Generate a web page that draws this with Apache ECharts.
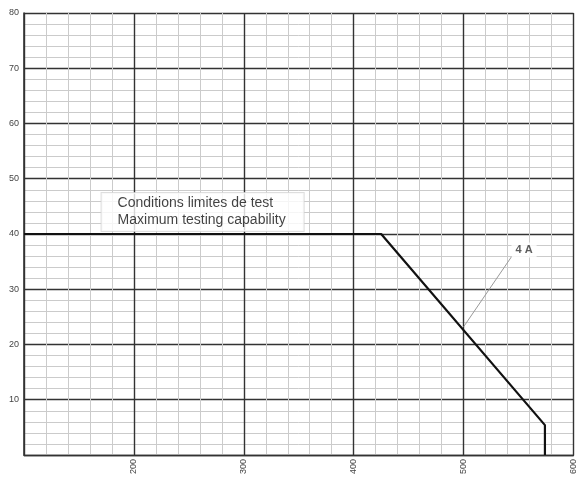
<!DOCTYPE html>
<html>
<head>
<meta charset="utf-8">
<script src="https://cdn.jsdelivr.net/npm/echarts@6/dist/echarts.min.js"></script>
<style>
html,body{margin:0;padding:0;background:#fff;}
#c{width:578px;height:477px;}
</style>
</head>
<body>
<div id="c"></div>
<script>
// Limit curve (x, y)
const curveX = [100, 425, 574, 574];
const curveY = [40, 40, 5.4, 0];
// Leader line for "4 A" annotation
const leaderX = [544, 500];
const leaderY = [36.0, 23.2];
// Annotation anchors
const curveLabel = ['4 A'];
const curveLabelPos = [555, 37.1];
const boxLines = ['Conditions limites de test', 'Maximum testing capability'];
const boxPos = [170.6, 44.0];
// Axes
const xMin = 100, xMax = 600, xStep = 100;
const yMin = 0, yMax = 80, yStep = 10;

const chart = echarts.init(document.getElementById('c'), null, {renderer: 'canvas'});
const majorLine = {show: true, lineStyle: {color: '#333', width: 1.4}};
const minorLine = {show: true, lineStyle: {color: '#cbcbcb', width: 1}};
chart.setOption({
  animation: false,
  backgroundColor: '#fff',
  grid: {left: 24, right: 1, top: 13, bottom: 22, containLabel: false},
  xAxis: {
    type: 'value', min: xMin, max: xMax, interval: xStep,
    axisLine: {show: true, lineStyle: {color: '#333', width: 1.4}},
    axisTick: {show: false},
    splitLine: majorLine,
    minorTick: {show: false, splitNumber: 5},
    minorSplitLine: minorLine,
    axisLabel: {
      rotate: 90, fontSize: 9, color: '#444', margin: 4,
      fontFamily: 'Liberation Sans',
      formatter: v => v === xMin ? '' : String(v)
    }
  },
  yAxis: {
    type: 'value', min: yMin, max: yMax, interval: yStep,
    axisLine: {show: true, lineStyle: {color: '#333', width: 1.6}},
    axisTick: {show: false},
    splitLine: majorLine,
    minorTick: {show: false, splitNumber: 5},
    minorSplitLine: minorLine,
    axisLabel: {
      fontSize: 9, color: '#444', margin: 5,
      fontFamily: 'Liberation Sans',
      formatter: v => v === yMin ? '' : String(v)
    }
  },
  series: [
    {
      type: 'line', data: curveX.map((x, i) => [x, curveY[i]]),
      symbol: 'none', lineStyle: {color: '#111', width: 2.2}, z: 5
    },
    {
      type: 'line', data: leaderX.map((x, i) => [x, leaderY[i]]),
      symbol: 'none', lineStyle: {color: '#999', width: 1}, z: 4
    },
    {
      type: 'scatter', data: [curveLabelPos], symbolSize: 0, z: 6,
      label: {
        show: true, position: 'inside', formatter: curveLabel[0],
        fontSize: 11, fontWeight: 'bold', color: '#333',
        fontFamily: 'Liberation Sans',
        backgroundColor: '#fff', padding: [2, 4]
      }
    },
    {
      type: 'scatter', data: [boxPos], symbolSize: 0, z: 3,
      label: {
        show: true, position: 'right', distance: 0,
        formatter: boxLines.join('\n'),
        fontSize: 14, lineHeight: 17, color: '#111',
        fontFamily: 'Liberation Sans',
        backgroundColor: '#fff', borderColor: '#d6d6d6', borderWidth: 1,
        padding: [2, 18, 2, 16]
      }
    }
  ]
});
</script>
</body>
</html>
